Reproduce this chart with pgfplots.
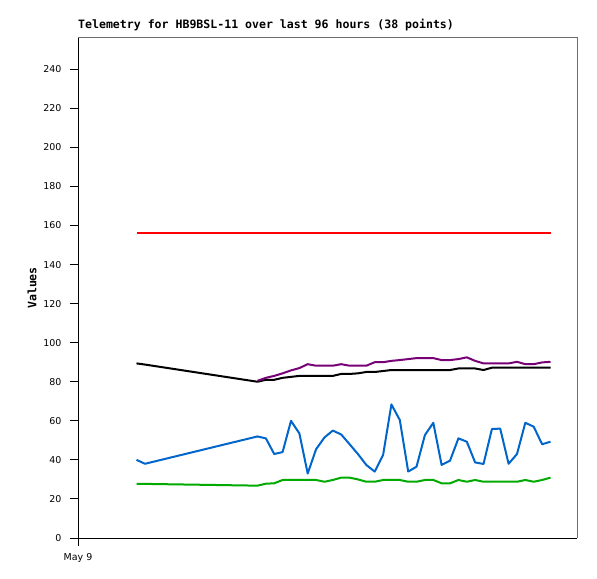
\documentclass[border=0pt]{standalone}
\usepackage{fontspec}
\setmainfont{DejaVu Sans}
\setmonofont{DejaVu Sans Mono}
\usepackage{pgfplots}
\usepackage{pgfplotstable}
\pgfplotsset{compat=1.18}
\definecolor{cred}{RGB}{255,0,0}
\definecolor{cblue}{RGB}{0,102,204}
\definecolor{cgreen}{RGB}{0,170,0}
\definecolor{cpurple}{RGB}{119,0,119}
\definecolor{cframe}{RGB}{110,110,110}

\pgfplotstableread{
x      red  black blue green purple
136.5  156  89.4  40.0 27.7  nan
145.0  156  88.8  38.0 27.7  nan
257.5  156  80.0  52.0 26.8  80.5
265.9  156  81.0  51.0 27.8  82.0
274.2  156  81.0  43.0 28.0  83.0
282.6  156  82.0  44.0 29.7  84.3
291.0  156  82.5  60.0 29.7  85.8
299.4  156  83.0  53.5 29.7  87.0
307.7  156  83.0  33.0 29.7  89.0
316.1  156  83.0  45.5 29.7  88.2
324.5  156  83.0  51.5 28.8  88.2
332.8  156  83.0  55.0 29.7  88.2
341.2  156  84.0  53.0 30.9  89.0
349.6  156  84.0  48.0 30.9  88.2
357.9  156  84.3  43.0 30.0  88.2
366.3  156  85.0  37.4 28.8  88.2
374.7  156  85.0  34.0 28.8  90.0
383.1  156  85.5  42.5 29.7  90.0
391.4  156  86.0  68.4 29.7  90.7
399.8  156  86.0  60.4 29.7  91.1
408.2  156  86.0  34.0 28.8  91.6
416.5  156  86.0  36.5 28.8  92.1
424.9  156  86.0  52.7 29.7  92.1
433.3  156  86.0  59.0 29.7  92.1
441.6  156  86.0  37.4 28.0  91.1
450.0  156  86.0  39.6 28.0  91.1
458.4  156  86.8  51.0 29.7  91.6
466.8  156  86.8  49.3 28.8  92.5
475.1  156  86.8  38.7 29.7  90.7
483.5  156  86.0  37.9 28.8  89.4
491.9  156  87.2  55.8 28.8  89.4
500.2  156  87.2  56.0 28.8  89.4
508.6  156  87.2  38.0 28.8  89.4
517.0  156  87.2  43.0 28.8  90.2
525.3  156  87.2  59.0 29.7  89.0
533.7  156  87.2  57.0 28.8  89.0
542.1  156  87.2  48.0 29.7  89.9
550.5  156  87.2  49.3 30.9  90.2
}\data

\begin{document}
\begin{tikzpicture}
\fill[white] (0bp,0bp) rectangle (597bp,579bp);
\useasboundingbox (0bp,0bp) rectangle (597bp,579bp);
\begin{axis}[
  at={(78bp,41bp)}, anchor=south west,
  scale only axis, width=499bp, height=500bp,
  xmin=78, xmax=577, ymin=0, ymax=256,
  axis lines*=left,
  axis line style={black, line width=1bp},
  tick align=outside,
  major tick length=8bp,
  tick style={black, line width=1bp},
  ytick={0,20,...,240},
  xtick={78}, xticklabels={May 9},
  /pgf/number format/assume math mode=true,
  ticklabel style={font=\fontsize{9.5}{10}\selectfont},
  yticklabel style={xshift=-5bp},
  xticklabel style={yshift=-3.5bp},
  title={Telemetry for HB9BSL-11 over last 96 hours (38 points)},
  title style={at={(rel axis cs:0,1)}, anchor=base west, yshift=3.5bp, inner sep=0pt,
    font=\ttfamily\bfseries\fontsize{11.6}{12}\selectfont},
  ylabel={Values},
  ylabel style={at={(axis description cs:-0.092,0.5)}, anchor=center, inner sep=0pt,
    font=\ttfamily\bfseries\fontsize{11.6}{12}\selectfont},
  clip=false,
  every axis plot/.append style={line width=2bp, line join=round, no markers},
  after end axis/.code={
    \draw[cframe, line width=1bp] (rel axis cs:0,1) -- (rel axis cs:1,1) -- (rel axis cs:1,0);
  },
]
\addplot[cred]    table[x=x, y=red]    {\data};
\addplot[black]   table[x=x, y=black]  {\data};
\addplot[cpurple] table[x=x, y=purple] {\data};
\addplot[cblue]   table[x=x, y=blue]   {\data};
\addplot[cgreen]  table[x=x, y=green]  {\data};
\end{axis}
\end{tikzpicture}
\end{document}
